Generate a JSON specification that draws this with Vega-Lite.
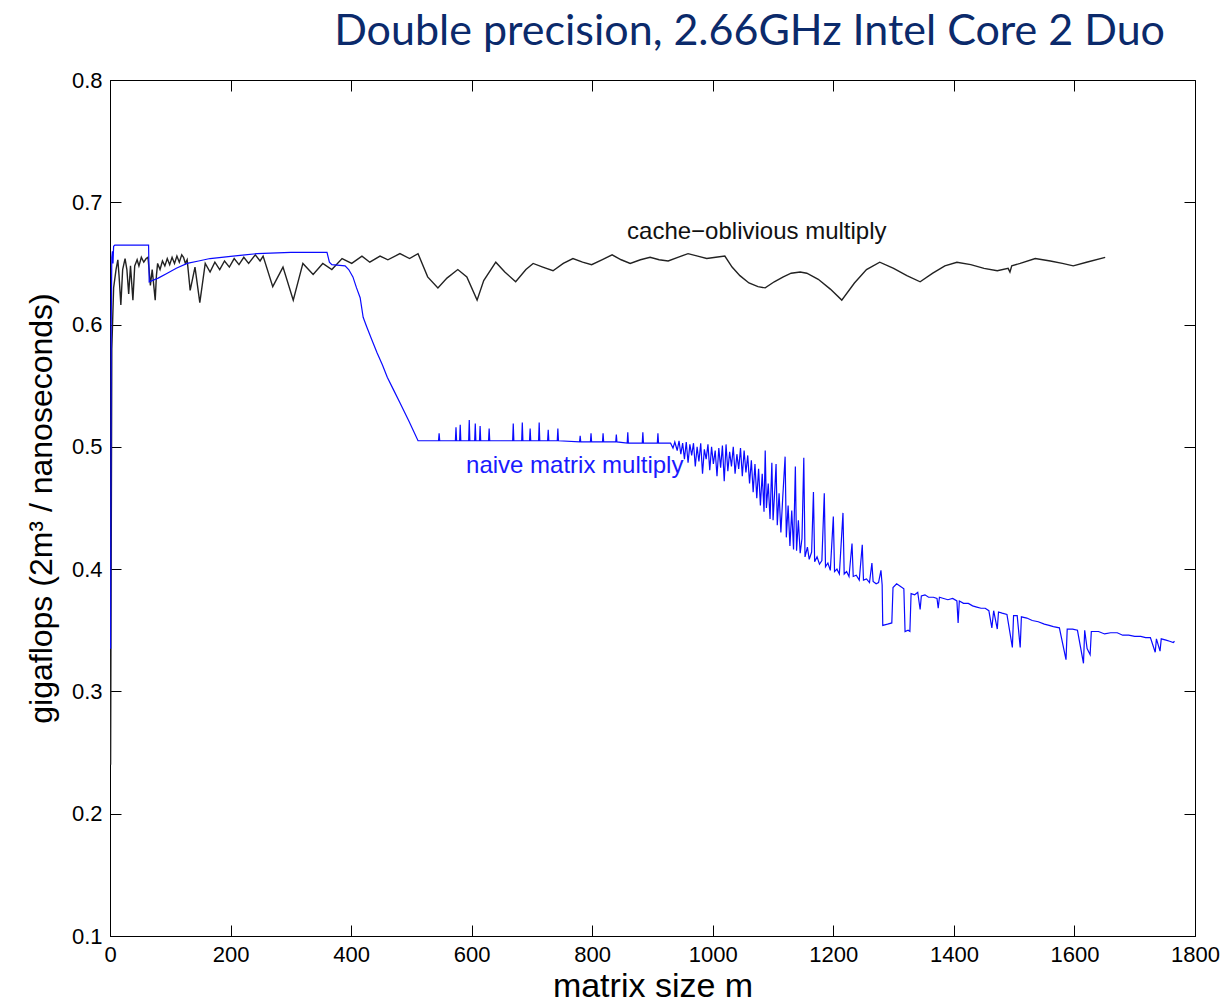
{
  "$schema": "https://vega.github.io/schema/vega-lite/v6.json",
  "width": 1085,
  "height": 856,
  "autosize": {"type": "none"},
  "padding": {"left": 110, "top": 80, "right": 30, "bottom": 68},
  "background": "#ffffff",
  "title": {"text": "Double precision, 2.66GHz Intel Core 2 Duo", "anchor": "end", "frame": "group", "font": "Lato", "fontSize": 43, "fontWeight": "normal", "color": "#0b2a6b", "offset": 15, "dx": -30},
  "datasets": {
    "co": [
      {"m":1,"g":0.24},{"m":3,"g":0.58},{"m":6,"g":0.63},{"m":10,"g":0.645},{"m":13,"g":0.653},{"m":15,"g":0.64},{"m":18,"g":0.616},{"m":21,"g":0.645},{"m":25,"g":0.654},{"m":28,"g":0.645},{"m":31,"g":0.625},{"m":34,"g":0.648},{"m":38,"g":0.62},{"m":41,"g":0.648},{"m":45,"g":0.653},{"m":48,"g":0.648},{"m":52,"g":0.655},{"m":56,"g":0.651},{"m":60,"g":0.654},{"m":63,"g":0.655},{"m":65,"g":0.644},{"m":67,"g":0.632},{"m":70,"g":0.645},{"m":73,"g":0.63},{"m":75,"g":0.62},{"m":77,"g":0.64},{"m":79,"g":0.65},{"m":83,"g":0.645},{"m":87,"g":0.652},{"m":91,"g":0.648},{"m":95,"g":0.654},{"m":99,"g":0.649},{"m":103,"g":0.655},{"m":107,"g":0.65},{"m":111,"g":0.656},{"m":115,"g":0.651},{"m":119,"g":0.657},{"m":122,"g":0.655},{"m":125,"g":0.65},{"m":128,"g":0.653},{"m":133,"g":0.628},{"m":141,"g":0.647},{"m":149,"g":0.618},{"m":158,"g":0.65},{"m":166,"g":0.643},{"m":174,"g":0.651},{"m":182,"g":0.645},{"m":190,"g":0.652},{"m":198,"g":0.647},{"m":206,"g":0.654},{"m":214,"g":0.649},{"m":222,"g":0.655},{"m":230,"g":0.65},{"m":241,"g":0.657},{"m":249,"g":0.652},{"m":254,"g":0.656},{"m":270,"g":0.631},{"m":287,"g":0.647},{"m":304,"g":0.62},{"m":320,"g":0.65},{"m":337,"g":0.641},{"m":353,"g":0.65},{"m":368,"g":0.645},{"m":385,"g":0.654},{"m":401,"g":0.65},{"m":418,"g":0.656},{"m":431,"g":0.651},{"m":448,"g":0.656},{"m":461,"g":0.653},{"m":481,"g":0.658},{"m":497,"g":0.654},{"m":511,"g":0.658},{"m":527,"g":0.639},{"m":544,"g":0.63},{"m":559,"g":0.638},{"m":577,"g":0.645},{"m":592,"g":0.639},{"m":609,"g":0.62},{"m":620,"g":0.636},{"m":640,"g":0.651},{"m":655,"g":0.643},{"m":673,"g":0.635},{"m":690,"g":0.645},{"m":702,"g":0.65},{"m":718,"g":0.647},{"m":735,"g":0.644},{"m":752,"g":0.65},{"m":768,"g":0.654},{"m":784,"g":0.651},{"m":799,"g":0.649},{"m":816,"g":0.653},{"m":833,"g":0.657},{"m":848,"g":0.653},{"m":863,"g":0.65},{"m":880,"g":0.653},{"m":896,"g":0.655},{"m":911,"g":0.653},{"m":926,"g":0.652},{"m":942,"g":0.655},{"m":959,"g":0.658},{"m":975,"g":0.656},{"m":990,"g":0.654},{"m":1005,"g":0.655},{"m":1020,"g":0.656},{"m":1032,"g":0.647},{"m":1045,"g":0.64},{"m":1060,"g":0.634},{"m":1075,"g":0.631},{"m":1087,"g":0.63},{"m":1102,"g":0.635},{"m":1117,"g":0.639},{"m":1130,"g":0.642},{"m":1145,"g":0.643},{"m":1156,"g":0.642},{"m":1175,"g":0.637},{"m":1195,"g":0.629},{"m":1214,"g":0.62},{"m":1235,"g":0.634},{"m":1255,"g":0.645},{"m":1277,"g":0.651},{"m":1300,"g":0.646},{"m":1322,"g":0.64},{"m":1344,"g":0.635},{"m":1365,"g":0.642},{"m":1385,"g":0.648},{"m":1405,"g":0.651},{"m":1428,"g":0.649},{"m":1450,"g":0.646},{"m":1472,"g":0.644},{"m":1490,"g":0.646},{"m":1493,"g":0.643},{"m":1496,"g":0.648},{"m":1510,"g":0.65},{"m":1535,"g":0.654},{"m":1560,"g":0.652},{"m":1580,"g":0.65},{"m":1598,"g":0.648},{"m":1620,"g":0.651},{"m":1651,"g":0.655}
    ],
    "naive": [
      {"m":1,"g":0.335},{"m":2,"g":0.6},{"m":3,"g":0.655},{"m":4,"g":0.66},{"m":5,"g":0.65},{"m":6,"g":0.664},{"m":8,"g":0.665},{"m":64,"g":0.665},{"m":65,"g":0.635},{"m":80,"g":0.638},{"m":95,"g":0.642},{"m":110,"g":0.646},{"m":128,"g":0.65},{"m":147,"g":0.652},{"m":166,"g":0.654},{"m":185,"g":0.655},{"m":204,"g":0.656},{"m":224,"g":0.657},{"m":244,"g":0.658},{"m":300,"g":0.659},{"m":360,"g":0.659},{"m":364,"g":0.651},{"m":368,"g":0.649},{"m":390,"g":0.648},{"m":396,"g":0.645},{"m":403,"g":0.639},{"m":409,"g":0.63},{"m":415,"g":0.622},{"m":420,"g":0.606},{"m":426,"g":0.598},{"m":434,"g":0.588},{"m":443,"g":0.577},{"m":452,"g":0.567},{"m":460,"g":0.557},{"m":470,"g":0.547},{"m":481,"g":0.536},{"m":496,"g":0.521},{"m":511,"g":0.505},
      {"m":545,"g":0.505},{"m":546,"g":0.511},{"m":547,"g":0.505},
      {"m":573,"g":0.505},{"m":574,"g":0.516},{"m":575,"g":0.505},
      {"m":580,"g":0.505},{"m":581,"g":0.518},{"m":582,"g":0.505},
      {"m":595,"g":0.505},{"m":596,"g":0.522},{"m":597,"g":0.505},
      {"m":605,"g":0.505},{"m":606,"g":0.519},{"m":607,"g":0.505},
      {"m":613,"g":0.505},{"m":614,"g":0.517},{"m":615,"g":0.505},
      {"m":628,"g":0.505},{"m":629,"g":0.515},{"m":630,"g":0.505},
      {"m":668,"g":0.505},{"m":669,"g":0.519},{"m":670,"g":0.505},
      {"m":683,"g":0.505},{"m":684,"g":0.52},{"m":685,"g":0.505},
      {"m":696,"g":0.505},{"m":697,"g":0.515},{"m":698,"g":0.505},
      {"m":711,"g":0.505},{"m":712,"g":0.52},{"m":713,"g":0.505},
      {"m":726,"g":0.505},{"m":727,"g":0.514},{"m":728,"g":0.505},
      {"m":742,"g":0.505},{"m":743,"g":0.515},{"m":744,"g":0.505},
      {"m":779,"g":0.504},{"m":780,"g":0.509},{"m":781,"g":0.504},
      {"m":797,"g":0.504},{"m":798,"g":0.511},{"m":799,"g":0.504},
      {"m":817,"g":0.504},{"m":818,"g":0.511},{"m":819,"g":0.504},
      {"m":839,"g":0.504},{"m":840,"g":0.51},{"m":841,"g":0.504},
      {"m":858,"g":0.503},{"m":859,"g":0.512},{"m":860,"g":0.503},
      {"m":883,"g":0.503},{"m":884,"g":0.512},{"m":885,"g":0.503},
      {"m":908,"g":0.503},{"m":909,"g":0.511},{"m":910,"g":0.503},
      {"m":930,"g":0.503},{"m":934,"g":0.499},{"m":937,"g":0.504},{"m":941,"g":0.497},{"m":944,"g":0.505},{"m":947,"g":0.494},{"m":950,"g":0.503},{"m":953,"g":0.49},{"m":956,"g":0.504},{"m":959,"g":0.487},{"m":962,"g":0.502},{"m":965,"g":0.493},{"m":968,"g":0.503},{"m":971,"g":0.484},{"m":974,"g":0.5},{"m":977,"g":0.488},{"m":980,"g":0.503},{"m":983,"g":0.478},{"m":986,"g":0.498},{"m":989,"g":0.49},{"m":992,"g":0.502},{"m":995,"g":0.481},{"m":998,"g":0.5},{"m":1001,"g":0.486},{"m":1004,"g":0.497},{"m":1007,"g":0.476},{"m":1010,"g":0.499},{"m":1013,"g":0.483},{"m":1016,"g":0.501},{"m":1019,"g":0.472},{"m":1022,"g":0.502},{"m":1025,"g":0.48},{"m":1028,"g":0.496},{"m":1031,"g":0.484},{"m":1034,"g":0.5},{"m":1037,"g":0.478},{"m":1040,"g":0.494},{"m":1043,"g":0.482},{"m":1046,"g":0.499},{"m":1049,"g":0.476},{"m":1052,"g":0.497},{"m":1055,"g":0.479},{"m":1058,"g":0.493},{"m":1061,"g":0.47},{"m":1064,"g":0.489},{"m":1067,"g":0.463},{"m":1070,"g":0.486},{"m":1073,"g":0.458},{"m":1076,"g":0.482},{"m":1079,"g":0.452},{"m":1082,"g":0.478},{"m":1085,"g":0.447},{"m":1087,"g":0.497},{"m":1089,"g":0.45},{"m":1092,"g":0.47},{"m":1095,"g":0.441},{"m":1098,"g":0.487},{"m":1100,"g":0.44},{"m":1103,"g":0.466},{"m":1105,"g":0.486},{"m":1107,"g":0.436},{"m":1110,"g":0.462},{"m":1113,"g":0.43},{"m":1116,"g":0.458},{"m":1120,"g":0.492},{"m":1122,"g":0.426},{"m":1125,"g":0.452},{"m":1128,"g":0.419},{"m":1131,"g":0.448},{"m":1134,"g":0.416},{"m":1137,"g":0.484},{"m":1139,"g":0.415},{"m":1142,"g":0.44},{"m":1145,"g":0.413},{"m":1148,"g":0.425},{"m":1151,"g":0.491},{"m":1153,"g":0.41},{"m":1157,"g":0.418},{"m":1160,"g":0.408},{"m":1164,"g":0.414},{"m":1167,"g":0.463},{"m":1169,"g":0.406},{"m":1173,"g":0.41},{"m":1177,"g":0.404},{"m":1181,"g":0.407},{"m":1185,"g":0.462},{"m":1187,"g":0.402},{"m":1191,"g":0.405},{"m":1195,"g":0.399},{"m":1200,"g":0.443},{"m":1202,"g":0.398},{"m":1206,"g":0.4},{"m":1210,"g":0.396},{"m":1216,"g":0.446},{"m":1218,"g":0.396},{"m":1222,"g":0.398},{"m":1226,"g":0.394},{"m":1231,"g":0.421},{"m":1233,"g":0.394},{"m":1238,"g":0.395},{"m":1243,"g":0.391},{"m":1248,"g":0.42},{"m":1250,"g":0.391},{"m":1255,"g":0.392},{"m":1260,"g":0.389},{"m":1264,"g":0.405},{"m":1266,"g":0.39},{"m":1271,"g":0.388},{"m":1275,"g":0.389},{"m":1279,"g":0.399},{"m":1281,"g":0.387},{"m":1282,"g":0.354},{"m":1290,"g":0.355},{"m":1297,"g":0.356},{"m":1299,"g":0.385},{"m":1305,"g":0.388},{"m":1311,"g":0.386},{"m":1317,"g":0.384},{"m":1319,"g":0.349},{"m":1324,"g":0.35},{"m":1327,"g":0.349},{"m":1329,"g":0.38},{"m":1335,"g":0.379},{"m":1340,"g":0.381},{"m":1344,"g":0.367},{"m":1346,"g":0.378},{"m":1352,"g":0.379},{"m":1358,"g":0.377},{"m":1366,"g":0.377},{"m":1372,"g":0.376},{"m":1374,"g":0.368},{"m":1376,"g":0.377},{"m":1383,"g":0.376},{"m":1390,"g":0.375},{"m":1398,"g":0.376},{"m":1405,"g":0.374},{"m":1407,"g":0.356},{"m":1409,"g":0.374},{"m":1416,"g":0.372},{"m":1424,"g":0.372},{"m":1431,"g":0.37},{"m":1438,"g":0.369},{"m":1445,"g":0.368},{"m":1452,"g":0.368},{"m":1458,"g":0.366},{"m":1463,"g":0.352},{"m":1466,"g":0.366},{"m":1472,"g":0.351},{"m":1474,"g":0.365},{"m":1480,"g":0.364},{"m":1488,"g":0.363},{"m":1497,"g":0.336},{"m":1499,"g":0.362},{"m":1505,"g":0.362},{"m":1510,"g":0.336},{"m":1512,"g":0.361},{"m":1521,"g":0.36},{"m":1530,"g":0.358},{"m":1540,"g":0.357},{"m":1550,"g":0.355},{"m":1558,"g":0.354},{"m":1565,"g":0.353},{"m":1575,"g":0.352},{"m":1586,"g":0.326},{"m":1588,"g":0.351},{"m":1597,"g":0.351},{"m":1605,"g":0.35},{"m":1615,"g":0.323},{"m":1617,"g":0.35},{"m":1621,"g":0.335},{"m":1626,"g":0.33},{"m":1628,"g":0.349},{"m":1640,"g":0.349},{"m":1650,"g":0.347},{"m":1660,"g":0.348},{"m":1671,"g":0.348},{"m":1680,"g":0.346},{"m":1690,"g":0.346},{"m":1700,"g":0.345},{"m":1710,"g":0.345},{"m":1718,"g":0.344},{"m":1726,"g":0.344},{"m":1734,"g":0.332},{"m":1736,"g":0.343},{"m":1742,"g":0.333},{"m":1744,"g":0.343},{"m":1752,"g":0.342},{"m":1758,"g":0.341},{"m":1764,"g":0.34},{"m":1766,"g":0.341}
    ],
    "labels": [
      {"m":1073,"g":0.676,"label":"cache−oblivious multiply","c":"#111111"},
      {"m":771,"g":0.484,"label":"naive matrix multiply","c":"#1a1aff"}
    ]
  },
  "layer": [
    {
      "data": {"name": "co"},
      "mark": {"type": "line", "color": "#222222", "strokeWidth": 1.4, "clip": true},
      "encoding": {
        "x": {"field": "m", "type": "quantitative", "scale": {"domain": [0, 1800], "nice": false, "zero": false},
              "axis": {"orient": "bottom", "title": "matrix size m", "format": "d", "values": [0,200,400,600,800,1000,1200,1400,1600,1800], "titlePadding": 4, "titleFontSize": 34}},
        "y": {"field": "g", "type": "quantitative", "scale": {"domain": [0.1, 0.8], "nice": false, "zero": false},
              "axis": {"orient": "left", "title": "gigaflops (2m³ / nanoseconds)", "values": [0.1,0.2,0.3,0.4,0.5,0.6,0.7,0.8], "format": ".1f", "titlePadding": 13}}
      }
    },
    {
      "data": {"name": "naive"},
      "mark": {"type": "line", "color": "#0a0aff", "strokeWidth": 1.2, "clip": true},
      "encoding": {
        "x": {"field": "m", "type": "quantitative", "axis": null},
        "y": {"field": "g", "type": "quantitative", "axis": null}
      }
    },
    {
      "data": {"name": "labels"},
      "mark": {"type": "text", "font": "Liberation Sans", "fontSize": 24, "align": "center", "baseline": "middle"},
      "encoding": {
        "x": {"field": "m", "type": "quantitative", "axis": {"orient": "top", "title": null, "labels": false, "domain": false, "values": [0,200,400,600,800,1000,1200,1400,1600,1800]}},
        "y": {"field": "g", "type": "quantitative", "axis": {"orient": "right", "title": null, "labels": false, "domain": false, "values": [0.1,0.2,0.3,0.4,0.5,0.6,0.7,0.8]}},
        "text": {"field": "label"},
        "color": {"field": "c", "type": "nominal", "scale": null}
      }
    }
  ],
  "resolve": {"axis": {"x": "independent", "y": "independent"}},
  "config": {
    "view": {"stroke": "#000000", "strokeWidth": 1},
    "axis": {
      "grid": false,
      "domainColor": "#000000",
      "tickColor": "#000000",
      "tickSize": -11,
      "labelColor": "#000000",
      "titleColor": "#000000",
      "labelFont": "Liberation Sans",
      "titleFont": "Liberation Sans",
      "labelFontSize": 22,
      "titleFontSize": 32,
      "titleFontWeight": "normal",
      "labelPadding": 19,
      "labelOverlap": false,
      "labelFlush": false
    }
  }
}
